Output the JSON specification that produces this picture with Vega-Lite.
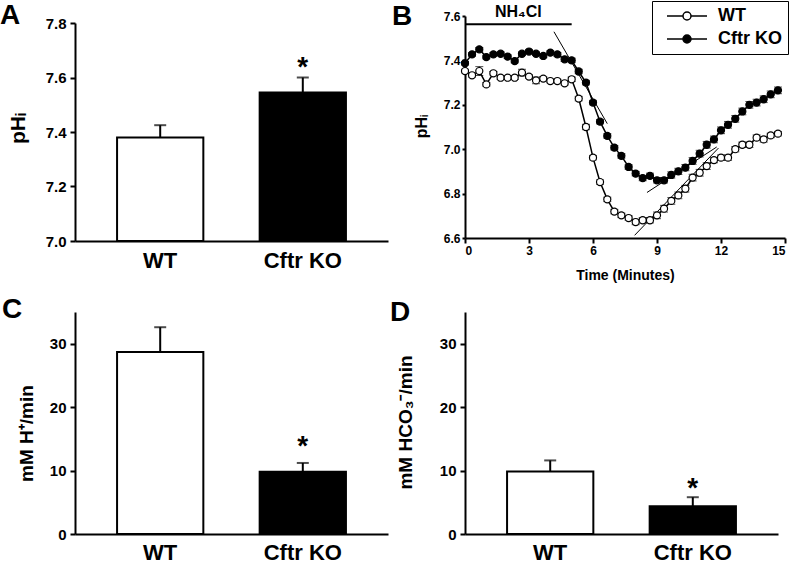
{
  "$schema": "https://vega.github.io/schema/vega-lite/v6.json",
  "padding": 0,
  "autosize": {"type": "pad"},
  "background": "white",
  "columns": 2,
  "spacing": {"row": 71, "column": 77},
  "bounds": "flush",
  "resolve": {"scale": {"fill": "independent", "x": "independent", "y": "independent"}, "legend": {"fill": "independent"}},
  "datasets": {
    "panelA": [
      {"g": "WT", "v": 7.38, "hi": 7.425, "star": ""},
      {"g": "Cftr KO", "v": 7.545, "hi": 7.6, "star": "*"}
    ],
    "panelC": [
      {"g": "WT", "v": 28.7, "hi": 32.6, "star": ""},
      {"g": "Cftr KO", "v": 9.8, "hi": 11.2, "star": "*"}
    ],
    "panelD": [
      {"g": "WT", "v": 9.84, "hi": 11.6, "star": ""},
      {"g": "Cftr KO", "v": 4.37, "hi": 5.8, "star": "*"}
    ],
    "fits": [
      {"fit": "ko1", "t": 4.17, "ph": 7.529},
      {"fit": "ko1", "t": 6.67, "ph": 7.115},
      {"fit": "ko2", "t": 8.53, "ph": 6.805},
      {"fit": "ko2", "t": 11.8, "ph": 7.01},
      {"fit": "wt2", "t": 7.95, "ph": 6.612},
      {"fit": "wt2", "t": 11.88, "ph": 7.005}
    ],
    "trace": [
      {"g": "Cftr KO", "t": 0, "ph": 7.387, "e": 0.008},
      {"g": "Cftr KO", "t": 0.33, "ph": 7.427, "e": 0.008},
      {"g": "Cftr KO", "t": 0.67, "ph": 7.45, "e": 0.008},
      {"g": "Cftr KO", "t": 1, "ph": 7.415, "e": 0.008},
      {"g": "Cftr KO", "t": 1.33, "ph": 7.427, "e": 0.008},
      {"g": "Cftr KO", "t": 1.67, "ph": 7.43, "e": 0.008},
      {"g": "Cftr KO", "t": 2, "ph": 7.417, "e": 0.008},
      {"g": "Cftr KO", "t": 2.33, "ph": 7.397, "e": 0.008},
      {"g": "Cftr KO", "t": 2.67, "ph": 7.43, "e": 0.008},
      {"g": "Cftr KO", "t": 3, "ph": 7.44, "e": 0.008},
      {"g": "Cftr KO", "t": 3.33, "ph": 7.43, "e": 0.008},
      {"g": "Cftr KO", "t": 3.67, "ph": 7.42, "e": 0.008},
      {"g": "Cftr KO", "t": 4, "ph": 7.435, "e": 0.008},
      {"g": "Cftr KO", "t": 4.33, "ph": 7.427, "e": 0.008},
      {"g": "Cftr KO", "t": 4.67, "ph": 7.405, "e": 0.01},
      {"g": "Cftr KO", "t": 5, "ph": 7.4, "e": 0.01},
      {"g": "Cftr KO", "t": 5.33, "ph": 7.35, "e": 0.01},
      {"g": "Cftr KO", "t": 5.67, "ph": 7.3, "e": 0.01},
      {"g": "Cftr KO", "t": 6, "ph": 7.21, "e": 0.01},
      {"g": "Cftr KO", "t": 6.33, "ph": 7.124, "e": 0.01},
      {"g": "Cftr KO", "t": 6.67, "ph": 7.06, "e": 0.01},
      {"g": "Cftr KO", "t": 7, "ph": 7.007, "e": 0.01},
      {"g": "Cftr KO", "t": 7.33, "ph": 6.97, "e": 0.01},
      {"g": "Cftr KO", "t": 7.67, "ph": 6.92, "e": 0.01},
      {"g": "Cftr KO", "t": 8, "ph": 6.89, "e": 0.01},
      {"g": "Cftr KO", "t": 8.33, "ph": 6.87, "e": 0.012},
      {"g": "Cftr KO", "t": 8.67, "ph": 6.88, "e": 0.012},
      {"g": "Cftr KO", "t": 9, "ph": 6.86, "e": 0.012},
      {"g": "Cftr KO", "t": 9.33, "ph": 6.86, "e": 0.012},
      {"g": "Cftr KO", "t": 9.67, "ph": 6.884, "e": 0.014},
      {"g": "Cftr KO", "t": 10, "ph": 6.9, "e": 0.014},
      {"g": "Cftr KO", "t": 10.33, "ph": 6.917, "e": 0.014},
      {"g": "Cftr KO", "t": 10.67, "ph": 6.947, "e": 0.015},
      {"g": "Cftr KO", "t": 11, "ph": 6.98, "e": 0.015},
      {"g": "Cftr KO", "t": 11.33, "ph": 7.02, "e": 0.015},
      {"g": "Cftr KO", "t": 11.67, "ph": 7.044, "e": 0.015},
      {"g": "Cftr KO", "t": 12, "ph": 7.085, "e": 0.015},
      {"g": "Cftr KO", "t": 12.33, "ph": 7.11, "e": 0.015},
      {"g": "Cftr KO", "t": 12.67, "ph": 7.137, "e": 0.015},
      {"g": "Cftr KO", "t": 13, "ph": 7.17, "e": 0.015},
      {"g": "Cftr KO", "t": 13.33, "ph": 7.2, "e": 0.015},
      {"g": "Cftr KO", "t": 13.67, "ph": 7.21, "e": 0.015},
      {"g": "Cftr KO", "t": 14, "ph": 7.225, "e": 0.015},
      {"g": "Cftr KO", "t": 14.33, "ph": 7.247, "e": 0.015},
      {"g": "Cftr KO", "t": 14.67, "ph": 7.265, "e": 0.015},
      {"g": "WT", "t": 0, "ph": 7.352, "e": 0.008},
      {"g": "WT", "t": 0.33, "ph": 7.333, "e": 0.008},
      {"g": "WT", "t": 0.67, "ph": 7.352, "e": 0.02},
      {"g": "WT", "t": 1, "ph": 7.292, "e": 0.008},
      {"g": "WT", "t": 1.33, "ph": 7.342, "e": 0.008},
      {"g": "WT", "t": 1.67, "ph": 7.322, "e": 0.008},
      {"g": "WT", "t": 2, "ph": 7.322, "e": 0.008},
      {"g": "WT", "t": 2.33, "ph": 7.322, "e": 0.008},
      {"g": "WT", "t": 2.67, "ph": 7.345, "e": 0.015},
      {"g": "WT", "t": 3, "ph": 7.327, "e": 0.008},
      {"g": "WT", "t": 3.33, "ph": 7.31, "e": 0.015},
      {"g": "WT", "t": 3.67, "ph": 7.318, "e": 0.008},
      {"g": "WT", "t": 4, "ph": 7.307, "e": 0.008},
      {"g": "WT", "t": 4.33, "ph": 7.307, "e": 0.008},
      {"g": "WT", "t": 4.67, "ph": 7.297, "e": 0.008},
      {"g": "WT", "t": 5, "ph": 7.315, "e": 0.01},
      {"g": "WT", "t": 5.33, "ph": 7.228, "e": 0.01},
      {"g": "WT", "t": 5.67, "ph": 7.1, "e": 0.012},
      {"g": "WT", "t": 6, "ph": 6.962, "e": 0.01},
      {"g": "WT", "t": 6.33, "ph": 6.852, "e": 0.01},
      {"g": "WT", "t": 6.67, "ph": 6.774, "e": 0.01},
      {"g": "WT", "t": 7, "ph": 6.719, "e": 0.01},
      {"g": "WT", "t": 7.33, "ph": 6.702, "e": 0.01},
      {"g": "WT", "t": 7.67, "ph": 6.69, "e": 0.01},
      {"g": "WT", "t": 8, "ph": 6.672, "e": 0.012},
      {"g": "WT", "t": 8.33, "ph": 6.68, "e": 0.012},
      {"g": "WT", "t": 8.67, "ph": 6.68, "e": 0.012},
      {"g": "WT", "t": 9, "ph": 6.702, "e": 0.015},
      {"g": "WT", "t": 9.33, "ph": 6.732, "e": 0.015},
      {"g": "WT", "t": 9.67, "ph": 6.767, "e": 0.015},
      {"g": "WT", "t": 10, "ph": 6.792, "e": 0.015},
      {"g": "WT", "t": 10.33, "ph": 6.822, "e": 0.015},
      {"g": "WT", "t": 10.67, "ph": 6.872, "e": 0.015},
      {"g": "WT", "t": 11, "ph": 6.894, "e": 0.015},
      {"g": "WT", "t": 11.33, "ph": 6.924, "e": 0.015},
      {"g": "WT", "t": 11.67, "ph": 6.951, "e": 0.012},
      {"g": "WT", "t": 12, "ph": 6.962, "e": 0.012},
      {"g": "WT", "t": 12.33, "ph": 6.962, "e": 0.012},
      {"g": "WT", "t": 12.67, "ph": 7.0, "e": 0.012},
      {"g": "WT", "t": 13, "ph": 7.02, "e": 0.012},
      {"g": "WT", "t": 13.33, "ph": 7.02, "e": 0.012},
      {"g": "WT", "t": 13.67, "ph": 7.052, "e": 0.012},
      {"g": "WT", "t": 14, "ph": 7.044, "e": 0.012},
      {"g": "WT", "t": 14.33, "ph": 7.062, "e": 0.01},
      {"g": "WT", "t": 14.67, "ph": 7.07, "e": 0.01}
    ]
  },
  "concat": [
    {
      "title": {"text": "A", "dx": -75, "dy": 18},
      "width": 313,
      "height": 225,
      "data": {"name": "panelA"},
      "encoding": {
        "x": {"field": "g", "type": "nominal", "sort": null, "title": null,
          "scale": {"domain": ["WT", "Cftr KO"], "paddingInner": 0.395, "paddingOuter": 0.295},
          "axis": {"ticks": false, "tickSize": 0, "labelFontSize": 22, "labelPadding": 9, "labelAngle": 0}}
      },
      "layer": [
        {
          "mark": {"type": "bar", "stroke": "black", "strokeWidth": 2},
          "encoding": {
            "y": {"field": "v", "type": "quantitative", "title": "pHᵢ",
              "scale": {"domain": [7.0, 7.8], "range": [225, 7], "zero": false, "nice": false},
              "axis": {"values": [7.0, 7.2, 7.4, 7.6, 7.8], "format": ".1f", "labelFontSize": 15, "labelPadding": 4,
                "titleFontSize": 21, "titleX": -57, "titleY": 112, "titleBaseline": "middle"}},
            "y2": {"datum": 7.0},
            "fill": {"field": "g", "type": "nominal", "scale": {"domain": ["WT", "Cftr KO"], "range": ["white", "black"]}, "legend": null}
          }
        },
        {
          "mark": {"type": "rule", "color": "black", "strokeWidth": 2},
          "encoding": {"y": {"field": "v", "type": "quantitative", "title": "pHᵢ"}, "y2": {"field": "hi"}}
        },
        {
          "mark": {"type": "tick", "color": "black", "size": 12, "thickness": 2},
          "encoding": {"y": {"field": "hi", "type": "quantitative", "title": "pHᵢ"}}
        },
        {
          "mark": {"type": "text", "fontSize": 28, "fontWeight": "bold", "baseline": "alphabetic", "dy": -2, "color": "black"},
          "encoding": {"y": {"field": "hi", "type": "quantitative", "title": "pHᵢ"}, "text": {"field": "star"}}
        }
      ]
    },
    {
      "title": {"text": "B", "dx": -73, "dy": 34},
      "width": 320,
      "height": 222,
      "layer": [
        {
          "data": {"values": [{"s": 0, "e": 5, "y": 7.563}]},
          "mark": {"type": "rule", "color": "black", "strokeWidth": 2},
          "encoding": {
            "x": {"field": "s", "type": "quantitative", "title": "Time (Minutes)",
              "scale": {"domain": [0, 15], "nice": false, "zero": false},
              "axis": {"values": [0, 3, 6, 9, 12, 15], "labelFontSize": 12, "tickSize": 5, "labelPadding": 2,
                "titleFontSize": 14, "titleY": 37, "titleBaseline": "middle"}},
            "x2": {"field": "e"},
            "y": {"field": "y", "type": "quantitative", "title": "pHᵢ",
              "scale": {"domain": [6.6, 7.6], "nice": false, "zero": false},
              "axis": {"values": [6.6, 6.8, 7.0, 7.2, 7.4, 7.6], "format": ".1f", "labelFontSize": 12, "tickSize": 3, "labelPadding": 2,
                "titleFontSize": 16, "titleX": -44, "titleY": 110, "titleBaseline": "middle"}}
          }
        },
        {
          "data": {"values": [{"t": 2.5, "y": 7.594, "label": "NH₄Cl"}]},
          "mark": {"type": "text", "fontSize": 16, "fontWeight": "bold", "baseline": "alphabetic", "color": "black"},
          "encoding": {
            "x": {"field": "t", "type": "quantitative", "title": "Time (Minutes)"},
            "y": {"field": "y", "type": "quantitative", "title": "pHᵢ"},
            "text": {"field": "label"}
          }
        },
        {
          "data": {"name": "fits"},
          "mark": {"type": "line", "color": "black", "strokeWidth": 1},
          "encoding": {
            "x": {"field": "t", "type": "quantitative", "title": "Time (Minutes)"},
            "y": {"field": "ph", "type": "quantitative", "title": "pHᵢ"},
            "detail": {"field": "fit"}
          }
        },
        {
          "data": {"name": "trace"},
          "mark": {"type": "errorbar", "color": "black", "thickness": 1, "ticks": {"size": 8, "thickness": 1}},
          "encoding": {
            "x": {"field": "t", "type": "quantitative", "title": "Time (Minutes)"},
            "y": {"field": "ph", "type": "quantitative", "title": "pHᵢ"},
            "yError": {"field": "e"},
            "detail": {"field": "g"}
          }
        },
        {
          "data": {"name": "trace"},
          "mark": {"type": "line", "color": "black", "strokeWidth": 1.5},
          "encoding": {
            "x": {"field": "t", "type": "quantitative", "title": "Time (Minutes)"},
            "y": {"field": "ph", "type": "quantitative", "title": "pHᵢ"},
            "detail": {"field": "g"}
          }
        },
        {
          "data": {"name": "trace"},
          "mark": {"type": "point", "shape": "circle", "filled": true, "stroke": "black", "strokeWidth": 1.2, "size": 50, "opacity": 1},
          "encoding": {
            "x": {"field": "t", "type": "quantitative", "title": "Time (Minutes)"},
            "y": {"field": "ph", "type": "quantitative", "title": "pHᵢ"},
            "fill": {"field": "g", "type": "nominal",
              "scale": {"domain": ["WT", "Cftr KO"], "range": ["white", "black"]},
              "legend": {"title": null, "orient": "none", "legendX": 187, "legendY": -15,
                "symbolType": "M-4,0H-0.8M0.8,0H4M-0.8,0A0.8,0.8 0 1,0 0.8,0A0.8,0.8 0 1,0 -0.8,0",
                "symbolSize": 100, "symbolStrokeColor": "black", "symbolStrokeWidth": 1.5,
                "symbolOffset": 20, "labelOffset": 22, "labelFontSize": 18, "labelFontWeight": "bold",
                "labelColor": "black", "labelFont": "Liberation Sans", "strokeColor": "black", "fillColor": "white",
                "padding": 6, "rowPadding": 5, "cornerRadius": 0}}
          }
        }
      ]
    },
    {
      "title": {"text": "C", "dx": -73, "dy": 31},
      "width": 313,
      "height": 222,
      "data": {"name": "panelC"},
      "encoding": {
        "x": {"field": "g", "type": "nominal", "sort": null, "title": null,
          "scale": {"domain": ["WT", "Cftr KO"], "paddingInner": 0.395, "paddingOuter": 0.295},
          "axis": {"ticks": false, "tickSize": 0, "labelFontSize": 22, "labelPadding": 8, "labelAngle": 0}}
      },
      "layer": [
        {
          "mark": {"type": "bar", "stroke": "black", "strokeWidth": 2},
          "encoding": {
            "y": {"field": "v", "type": "quantitative", "title": "mM H⁺/min",
              "scale": {"domain": [0, 35], "nice": false},
              "axis": {"values": [0, 10, 20, 30], "labelFontSize": 15, "labelPadding": 4,
                "titleFontSize": 19, "titleX": -49, "titleY": 121, "titleBaseline": "middle"}},
            "fill": {"field": "g", "type": "nominal", "scale": {"domain": ["WT", "Cftr KO"], "range": ["white", "black"]}, "legend": null}
          }
        },
        {
          "mark": {"type": "rule", "color": "black", "strokeWidth": 2},
          "encoding": {"y": {"field": "v", "type": "quantitative", "title": "mM H⁺/min"}, "y2": {"field": "hi"}}
        },
        {
          "mark": {"type": "tick", "color": "black", "size": 12, "thickness": 2},
          "encoding": {"y": {"field": "hi", "type": "quantitative", "title": "mM H⁺/min"}}
        },
        {
          "mark": {"type": "text", "fontSize": 28, "fontWeight": "bold", "baseline": "alphabetic", "dy": -8, "color": "black"},
          "encoding": {"y": {"field": "hi", "type": "quantitative", "title": "mM H⁺/min"}, "text": {"field": "star"}}
        }
      ]
    },
    {
      "title": {"text": "D", "dx": -75, "dy": 19},
      "width": 313,
      "height": 222,
      "data": {"name": "panelD"},
      "encoding": {
        "x": {"field": "g", "type": "nominal", "sort": null, "title": null,
          "scale": {"domain": ["WT", "Cftr KO"], "paddingInner": 0.395, "paddingOuter": 0.295},
          "axis": {"ticks": false, "tickSize": 0, "labelFontSize": 22, "labelPadding": 8, "labelAngle": 0}}
      },
      "layer": [
        {
          "mark": {"type": "bar", "stroke": "black", "strokeWidth": 2},
          "encoding": {
            "y": {"field": "v", "type": "quantitative", "title": "mM HCO₃⁻/min",
              "scale": {"domain": [0, 35], "nice": false},
              "axis": {"values": [0, 10, 20, 30], "labelFontSize": 15, "labelPadding": 4,
                "titleFontSize": 19, "titleX": -60, "titleY": 110, "titleBaseline": "middle"}},
            "fill": {"field": "g", "type": "nominal", "scale": {"domain": ["WT", "Cftr KO"], "range": ["white", "black"]}, "legend": null}
          }
        },
        {
          "mark": {"type": "rule", "color": "black", "strokeWidth": 2},
          "encoding": {"y": {"field": "v", "type": "quantitative", "title": "mM HCO₃⁻/min"}, "y2": {"field": "hi"}}
        },
        {
          "mark": {"type": "tick", "color": "black", "size": 12, "thickness": 2},
          "encoding": {"y": {"field": "hi", "type": "quantitative", "title": "mM HCO₃⁻/min"}}
        },
        {
          "mark": {"type": "text", "fontSize": 28, "fontWeight": "bold", "baseline": "alphabetic", "dy": 0, "color": "black"},
          "encoding": {"y": {"field": "hi", "type": "quantitative", "title": "mM HCO₃⁻/min"}, "text": {"field": "star"}}
        }
      ]
    }
  ],
  "config": {
    "font": "Liberation Sans",
    "view": {"stroke": null},
    "axis": {
      "domainColor": "black", "domainWidth": 2, "tickColor": "black", "tickWidth": 2, "tickSize": 5,
      "labelColor": "black", "labelFontWeight": "bold", "labelFont": "Liberation Sans",
      "titleColor": "black", "titleFontWeight": "bold", "titleFont": "Liberation Sans", "grid": false
    },
    "title": {"fontWeight": "bold", "fontSize": 28, "anchor": "start", "frame": "group", "color": "black", "baseline": "alphabetic", "offset": 0, "font": "Liberation Sans"},
    "text": {"font": "Liberation Sans"}
  }
}
